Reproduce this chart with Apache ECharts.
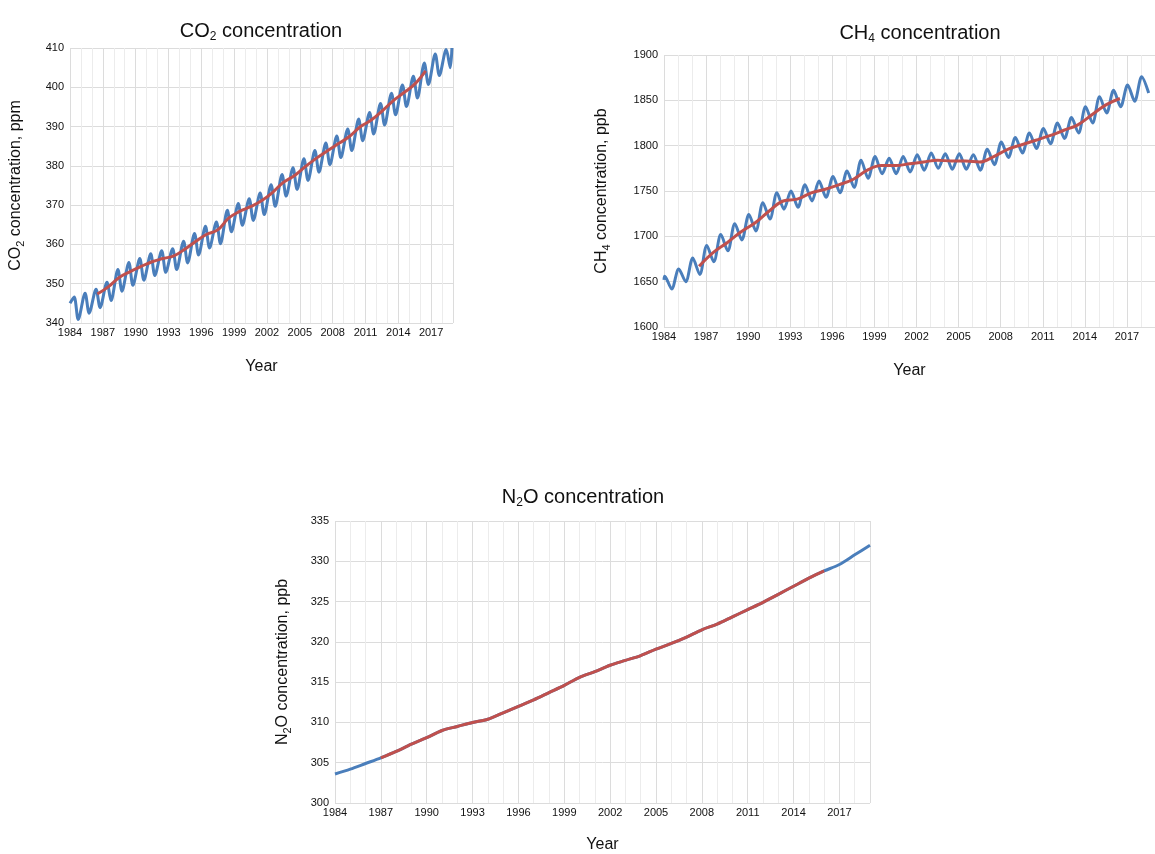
<!DOCTYPE html>
<html><head><meta charset="utf-8">
<script src="https://cdn.jsdelivr.net/npm/echarts@6/dist/echarts.min.js"></script>
<style>html,body{margin:0;padding:0;background:#fff}#c{width:1155px;height:854px}</style>
</head><body><div id="c"></div>
<script>
// years of seasonal extremes
const years = [1984,1985,1986,1987,1988,1989,1990,1991,1992,1993,1994,1995,1996,1997,1998,1999,2000,2001,2002,2003,2004,2005,2006,2007,2008,2009,2010,2011,2012,2013,2014,2015,2016,2017,2018];
const xTicks = [1984,1987,1990,1993,1996,1999,2002,2005,2008,2011,2014,2017];

// CO2 (ppm)
const co2Mean = [344.4,346.0,347.4,349.2,351.6,353.1,354.4,355.6,356.4,357.1,358.8,360.8,362.6,363.7,366.7,368.4,369.6,371.1,373.2,375.8,377.5,379.8,381.9,383.8,385.6,387.4,389.9,391.6,393.9,396.5,398.6,400.8,404.2,406.5,408.5];
const co2Peak = [346.6,347.6,348.6,350.4,353.6,355.4,356.4,357.6,358.4,358.9,360.8,362.8,364.6,365.7,368.7,370.4,371.6,373.1,375.2,377.8,379.5,381.8,383.9,385.8,387.6,389.4,391.9,393.6,395.9,398.5,400.6,402.8,406.2,408.5,409.6];
const co2Trough = [340.9,342.5,343.9,345.7,348.1,349.6,350.9,352.1,352.9,353.6,355.3,357.3,359.1,360.2,363.2,364.9,366.1,367.6,369.7,372.3,374.0,376.3,378.4,380.3,382.1,383.9,386.4,388.1,390.4,393.0,395.1,397.3,400.7,403.0,405.0];
const co2Start = 345.0, co2End = 410.0;

// CH4 (ppb)
const ch4Mean = [1645,1657,1667,1682,1693,1705,1715,1728,1739,1741,1748,1752,1757,1763,1773,1778,1778,1780,1782,1784,1783,1783,1782,1788,1796,1801,1806,1811,1817,1823,1834,1845,1852,1858,1866];
const ch4Peak = [1656,1664,1676,1690,1702,1714,1724,1737,1748,1750,1757,1761,1766,1772,1784,1788,1786,1788,1790,1792,1791,1791,1790,1796,1804,1809,1814,1819,1825,1831,1843,1854,1861,1867,1876];
const ch4Trough = [1642,1650,1658,1672,1684,1696,1706,1719,1730,1732,1739,1743,1748,1754,1764,1769,1769,1771,1773,1775,1774,1774,1773,1779,1787,1792,1797,1802,1808,1814,1825,1836,1843,1849,1858];
const ch4Start = 1652;

// N2O (ppb)
const n2oYears = [1984,1985,1986,1987,1988,1989,1990,1991,1992,1993,1994,1995,1996,1997,1998,1999,2000,2001,2002,2003,2004,2005,2006,2007,2008,2009,2010,2011,2012,2013,2014,2015,2016,2017,2018,2019];
const n2oVals = [303.6,304.2,304.9,305.6,306.4,307.3,308.1,309.0,309.5,310.0,310.4,311.2,312.0,312.8,313.7,314.6,315.6,316.3,317.1,317.7,318.3,319.1,319.8,320.6,321.5,322.2,323.1,324.0,324.9,325.9,326.9,327.9,328.8,329.6,330.8,332.0];

const trendFrom = 1986, trendTo = 2016;

function seasonal(start, peak, trough, pOff, tOff, end){
  const d=[[1984,start]];
  years.forEach((y,i)=>{
    const a=[[y+pOff,peak[i]],[y+tOff,trough[i]]].sort((p,q)=>p[0]-q[0]);
    d.push(...a);
  });
  if(end!==undefined) d.push([2018.9,end]);
  return d;
}
function trend(mean){
  return years.map((y,i)=>[y+0.5,mean[i]]).filter(p=>p[0]>=trendFrom+0.5&&p[0]<=trendTo+0.5);
}

const F='Liberation Sans Narrow, Liberation Sans, Arial, sans-serif';
const blue='#4a7ebb', red='#c0504d';
const sub={fontSize:11,verticalAlign:'bottom',padding:[10,0,0,0],fontFamily:'Liberation Sans',color:'#111'};
const grids=[
  {left:70,right:702,top:48,bottom:531},
  {left:664,right:0,top:55,bottom:527},
  {left:335,right:285,top:521,bottom:48}
];
function xAxis(gi){
  return {type:'value',gridIndex:gi,min:1984,max:2019,interval:3,
    name:'Year',nameLocation:'middle',nameGap:gi==2?34:36,nameTextStyle:{fontSize:16,color:'#111',fontFamily:'Liberation Sans'},
    axisLine:{show:false},axisTick:{show:false},
    axisLabel:{fontSize:11,color:'#111',fontFamily:F,margin:4,showMaxLabel:false,formatter:v=>String(v)},
    splitLine:{show:true,lineStyle:{color:'#dcdcdc'}},
    minorTick:{show:false,splitNumber:3},minorSplitLine:{show:true,lineStyle:{color:'#ececec'}}};
}
function yAxis(gi,min,max,itv,name,gap){
  return {type:'value',gridIndex:gi,min:min,max:max,interval:itv,
    name:name,nameLocation:'middle',nameGap:gap,
    nameTextStyle:{fontSize:16,color:'#111',fontFamily:'Liberation Sans',rich:{s:sub}},
    axisLine:{show:false},axisTick:{show:false},
    axisLabel:{fontSize:11,color:'#111',fontFamily:F,margin:6,formatter:v=>String(v)},
    splitLine:{show:true,lineStyle:{color:'#dcdcdc'}}};
}
function line(gi,data,color,smooth){
  return {type:'line',xAxisIndex:gi,yAxisIndex:gi,data:data,symbol:'none',smooth:smooth,
    lineStyle:{color:color,width:3},z:color===red?3:2};
}
const title=(t,l,tp)=>({text:t,left:l,top:tp,textAlign:'center',
  textStyle:{fontSize:20,fontWeight:'normal',color:'#111',fontFamily:'Liberation Sans',rich:{s:Object.assign({},sub,{fontSize:12,padding:[12,0,0,0]})}}});

const chart=echarts.init(document.getElementById('c'));
chart.setOption({
  animation:false,
  title:[title('CO{s|2} concentration',256,14),title('CH{s|4} concentration',915,16),title('N{s|2}O concentration',578,480)],
  grid:grids,
  xAxis:[xAxis(0),xAxis(1),xAxis(2)],
  yAxis:[yAxis(0,340,410,10,'CO{s|2} concentration, ppm',44),yAxis(1,1600,1900,50,'CH{s|4} concentration, ppb',52),yAxis(2,300,335,5,'N{s|2}O concentration, ppb',42)],
  series:[
    line(0,seasonal(co2Start,co2Peak,co2Trough,0.38,0.75,co2End),blue,0.3),
    line(0,trend(co2Mean),red,0.4),
    line(1,seasonal(ch4Start,ch4Peak,ch4Trough,0.05,0.55),blue,0.3),
    line(1,trend(ch4Mean),red,0.4),
    line(2,n2oYears.map((y,i)=>[y,n2oVals[i]]),blue,0.3),
    line(2,n2oYears.map((y,i)=>[y,n2oVals[i]]).filter(p=>p[0]>=1986.5&&p[0]<=2016.5),red,0.3)
  ]
});
</script></body></html>
